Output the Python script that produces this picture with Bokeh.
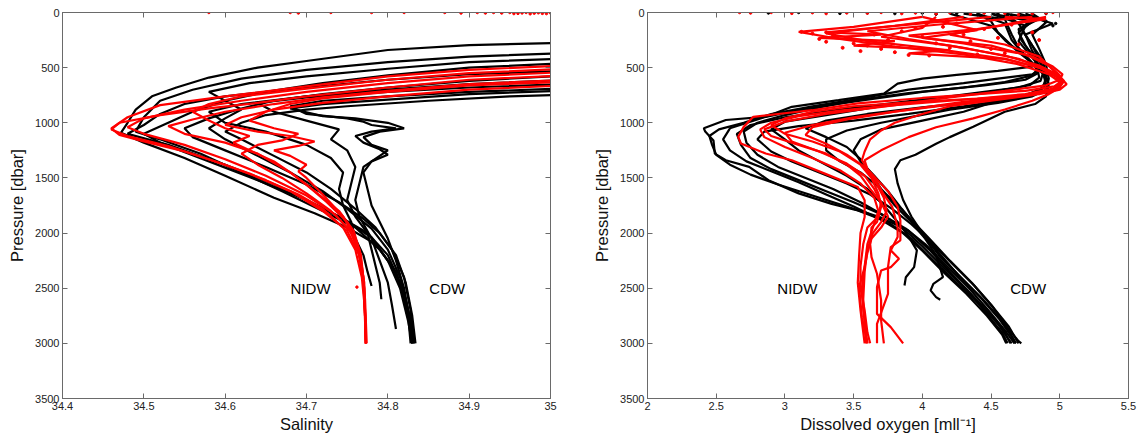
from bokeh.plotting import figure
from bokeh.models import Range1d, FixedTicker, LinearAxis, ColumnDataSource
from bokeh.layouts import row
from bokeh.core.properties import value
from bokeh.embed import file_html
from bokeh.resources import INLINE

# ---------------- data: (value, pressure [dbar]) pairs ----------------
# Salinity, CDW (black) profiles
SAL_B1 = [(35.05,270),(34.9,295),(34.8,340),(34.7,440),(34.64,500),(34.58,590),(34.54,680),(34.51,760),(34.49,880),(34.48,1000),(34.472,1090),(34.5,1180),(34.55,1320),(34.6,1480),(34.66,1680),(34.71,1820),(34.75,1950),(34.785,2100),(34.805,2300),(34.82,2550),(34.828,2800),(34.832,3000)]
SAL_B2 = [(35.05,360),(34.9,400),(34.8,450),(34.7,520),(34.62,600),(34.56,700),(34.52,800),(34.5,950),(34.49,1080),(34.52,1150),(34.57,1280),(34.62,1450),(34.67,1620),(34.72,1800),(34.76,1950),(34.79,2150),(34.81,2350),(34.822,2600),(34.828,2800),(34.83,3000)]
SAL_B3 = [(35.05,450),(34.9,500),(34.8,570),(34.72,640),(34.65,720),(34.6,800),(34.56,900),(34.53,1000),(34.5,1100),(34.52,1180),(34.58,1350),(34.64,1520),(34.7,1700),(34.74,1850),(34.775,2000),(34.8,2200),(34.815,2450),(34.825,2750),(34.828,3000)]
SAL_B4 = [(35.05,560),(34.9,620),(34.8,680),(34.72,740),(34.66,800),(34.62,870),(34.58,960),(34.55,1050),(34.56,1130),(34.6,1250),(34.65,1400),(34.7,1560),(34.74,1720),(34.77,1870),(34.79,2000),(34.81,2200),(34.822,2450),(34.83,2750),(34.834,3000)]
SAL_B5 = [(35.05,740),(34.95,760),(34.85,800),(34.75,850),(34.7,880),(34.65,930),(34.62,1000),(34.6,1080),(34.62,1150),(34.66,1300),(34.7,1450),(34.73,1600),(34.76,1780),(34.785,1950),(34.805,2150),(34.82,2400),(34.828,2700),(34.832,3000)]
SAL_B6 = [(35.05,700),(34.9,740),(34.8,790),(34.72,830),(34.68,870),(34.72,940),(34.76,960),(34.78,980),(34.8,1000),(34.82,1050),(34.79,1080),(34.77,1130),(34.78,1200),(34.8,1250),(34.79,1300),(34.77,1400),(34.765,1550),(34.76,1700),(34.765,1850),(34.78,2050),(34.79,2250),(34.8,2450),(34.805,2650),(34.81,2870)]
SAL_B7 = [(35.05,640),(34.9,680),(34.8,720),(34.7,770),(34.64,820),(34.66,900),(34.7,980),(34.74,1060),(34.73,1150),(34.75,1250),(34.76,1400),(34.755,1550),(34.75,1700),(34.76,1850),(34.775,2000),(34.78,2150),(34.785,2300),(34.79,2450),(34.792,2600)]
SAL_B8 = [(35.05,600),(34.9,650),(34.8,700),(34.7,760),(34.62,830),(34.58,900),(34.6,1000),(34.65,1080),(34.7,1200),(34.73,1320),(34.745,1450),(34.74,1600),(34.745,1750),(34.755,1900),(34.76,2050),(34.77,2200),(34.775,2350),(34.78,2480)]
SAL_B9 = [(35.05,680),(34.9,720),(34.8,760),(34.72,800),(34.68,850),(34.7,920),(34.75,960),(34.77,990),(34.78,1020),(34.81,1050),(34.78,1080),(34.76,1120),(34.77,1180),(34.79,1240),(34.8,1290),(34.78,1350),(34.77,1450),(34.775,1600),(34.78,1750),(34.79,1900),(34.8,2050),(34.81,2250),(34.82,2500),(34.826,2750),(34.83,3000)]
SAL_B10 = [(35.05,520),(34.9,560),(34.8,610),(34.7,680),(34.6,760),(34.55,830),(34.52,920),(34.5,1020),(34.48,1100),(34.53,1200),(34.6,1380),(34.66,1560),(34.7,1700),(34.745,1870),(34.78,2040),(34.8,2250),(34.815,2500),(34.825,2800),(34.83,3000)]
SAL_B11 = [(35.05,410),(34.9,450),(34.8,510),(34.7,580),(34.63,640),(34.58,720),(34.6,800),(34.62,880),(34.6,960),(34.58,1050),(34.6,1150),(34.64,1300),(34.68,1450),(34.72,1620),(34.75,1780),(34.78,1960),(34.8,2150),(34.815,2400),(34.825,2700),(34.83,3000)]

# Salinity, NIDW (red) profiles
SAL_R1 = [(35.05,470),(34.9,520),(34.8,580),(34.7,670),(34.6,760),(34.52,840),(34.48,950),(34.46,1050),(34.47,1110),(34.5,1170),(34.55,1260),(34.6,1380),(34.65,1520),(34.69,1650),(34.72,1780),(34.745,1950),(34.76,2150),(34.768,2400),(34.772,2700),(34.773,3000)]
SAL_R2 = [(35.05,530),(34.9,580),(34.8,640),(34.7,720),(34.62,800),(34.55,880),(34.5,960),(34.48,1040),(34.5,1100),(34.55,1200),(34.6,1330),(34.65,1480),(34.7,1660),(34.735,1830),(34.755,2000),(34.765,2200),(34.77,2450),(34.772,2750),(34.773,3000)]
SAL_R3 = [(35.05,600),(34.9,650),(34.8,710),(34.72,770),(34.66,830),(34.6,900),(34.56,970),(34.53,1030),(34.55,1100),(34.6,1180),(34.64,1280),(34.68,1450),(34.71,1620),(34.74,1800),(34.758,1980),(34.767,2200),(34.771,2500),(34.773,3000)]
SAL_R4 = [(35.05,650),(34.9,700),(34.8,760),(34.72,820),(34.66,880),(34.62,950),(34.6,1020),(34.64,1080),(34.68,1120),(34.71,1170),(34.69,1210),(34.66,1250),(34.68,1300),(34.7,1380),(34.69,1440),(34.7,1500),(34.72,1650),(34.745,1850),(34.76,2050),(34.768,2300),(34.772,2600),(34.774,3000)]
SAL_R5 = [(35.05,500),(34.9,550),(34.8,610),(34.7,690),(34.62,760),(34.58,830),(34.56,900),(34.58,980),(34.6,1050),(34.63,1120),(34.61,1180),(34.63,1250),(34.66,1350),(34.68,1450),(34.7,1560),(34.725,1720),(34.75,1900),(34.762,2100),(34.77,2400),(34.773,3000)]
SAL_R6 = [(35.05,560),(34.9,610),(34.8,680),(34.7,760),(34.64,820),(34.58,870),(34.52,930),(34.47,1000),(34.46,1060),(34.48,1120),(34.53,1210),(34.58,1330),(34.63,1460),(34.68,1620),(34.72,1800),(34.75,1980),(34.765,2200),(34.771,2500),(34.773,3000)]
SAL_R7 = [(35.05,620),(34.9,660),(34.8,720),(34.72,780),(34.68,830),(34.65,900),(34.63,980),(34.66,1050),(34.69,1100),(34.67,1160),(34.64,1200),(34.62,1280),(34.64,1380),(34.67,1500),(34.7,1640),(34.73,1800),(34.752,1960),(34.765,2150),(34.771,2450),(34.773,3000)]

# surface / stray red salinity samples
SAL_RED_DOTS_S = [34.58, 34.68, 34.69, 34.73, 34.78, 34.82, 34.87, 34.89, 34.91, 34.92, 34.93, 34.94, 34.95, 34.955, 34.96, 34.965, 34.97, 34.975, 34.98, 34.985, 34.99, 34.995, 35.0, 34.762]
SAL_RED_DOTS_P = [0, 0, 5, 0, 0, 0, 0, 5, 0, 5, 0, 5, 0, 10, 8, 4, 0, 12, 6, 3, 8, 10, 4, 2490]

# Dissolved oxygen, CDW (black) profiles
OX_B1 = [(4.75,10),(4.85,60),(4.7,150),(4.72,250),(4.78,350),(4.84,430),(4.8,490),(4.55,530),(4.25,565),(4.0,600),(3.82,645),(3.72,735),(3.39,795),(3.05,855),(2.86,945),(2.57,975),(2.41,1050),(2.42,1080),(2.48,1160),(2.49,1280),(2.57,1340),(2.74,1400),(2.88,1520),(3.1,1640),(3.34,1735),(3.53,1795),(3.75,1900),(3.92,2050),(4.08,2250),(4.25,2450),(4.42,2650),(4.55,2820),(4.62,2950),(4.65,3000)]
OX_B2 = [(4.6,10),(4.7,100),(4.75,200),(4.8,300),(4.87,420),(4.89,500),(4.8,560),(4.55,600),(4.3,640),(3.9,700),(3.5,790),(3.2,850),(2.9,920),(2.7,1000),(2.52,1060),(2.45,1120),(2.47,1200),(2.5,1290),(2.6,1380),(2.75,1470),(2.95,1560),(3.2,1660),(3.45,1760),(3.7,1860),(3.9,1980),(4.05,2150),(4.2,2350),(4.35,2550),(4.48,2750),(4.58,2900),(4.62,3000)]
OX_B3 = [(4.5,10),(4.8,80),(4.7,180),(4.75,300),(4.82,420),(4.88,540),(4.86,620),(4.7,680),(4.45,720),(4.2,760),(3.8,820),(3.4,880),(3.0,950),(2.75,1020),(2.65,1100),(2.68,1200),(2.75,1320),(2.9,1420),(3.1,1520),(3.3,1620),(3.5,1720),(3.7,1830),(3.88,1960),(4.02,2100),(4.18,2300),(4.34,2500),(4.48,2700),(4.6,2880),(4.67,3000)]
OX_B4 = [(4.3,10),(4.6,60),(4.65,200),(4.7,320),(4.8,460),(4.88,560),(4.9,650),(4.85,720),(4.68,780),(4.3,850),(3.9,920),(3.5,980),(3.1,1030),(2.85,1080),(2.8,1150),(2.9,1260),(3.05,1350),(3.25,1450),(3.45,1550),(3.62,1650),(3.78,1780),(3.92,1920),(4.06,2080),(4.22,2280),(4.38,2480),(4.52,2680),(4.63,2850),(4.7,3000)]
OX_B5 = [(4.7,10),(4.95,100),(4.75,200),(4.8,350),(4.88,500),(4.92,650),(4.9,760),(4.82,830),(4.6,900),(4.37,1035),(4.2,1130),(4.1,1190),(3.95,1290),(3.84,1340),(3.8,1420),(3.82,1550),(3.86,1700),(3.92,1850),(4.0,2000),(4.12,2200),(4.28,2400),(4.44,2600),(4.58,2800),(4.7,2980),(4.72,3000)]
OX_B6 = [(4.4,10),(4.6,100),(4.65,250),(4.75,400),(4.84,520),(4.85,590),(4.78,660),(4.5,720),(4.1,780),(3.7,850),(3.3,930),(3.0,990),(2.9,1060),(3.0,1150),(3.1,1250),(3.25,1350),(3.45,1480),(3.6,1600),(3.72,1750),(3.82,1900),(3.9,2030),(3.96,2157),(3.94,2309),(3.88,2400),(3.87,2475)]
OX_B7 = [(4.5,10),(4.75,120),(4.7,260),(4.78,380),(4.87,520),(4.9,620),(4.86,700),(4.72,760),(4.4,810),(4.0,860),(3.6,920),(3.3,980),(3.15,1050),(3.3,1130),(3.45,1220),(3.55,1330),(3.62,1450),(3.7,1600),(3.8,1750),(3.92,1900),(4.02,2050),(4.1,2200),(4.15,2400),(4.08,2460),(4.06,2520),(4.1,2581),(4.13,2605)]
OX_B8 = [(4.6,10),(4.8,50),(4.72,150),(4.8,300),(4.86,450),(4.9,580),(4.88,680),(4.78,740),(4.55,800),(4.3,900),(4.0,980),(3.7,1060),(3.55,1150),(3.5,1250),(3.55,1350),(3.65,1480),(3.75,1620),(3.85,1780),(3.96,1950),(4.1,2150),(4.26,2380),(4.42,2580),(4.56,2780),(4.64,2920),(4.68,3000)]
OX_B9 = [(4.2,10),(4.5,120),(4.6,250),(4.72,380),(4.82,480),(4.84,550),(4.75,610),(4.45,660),(4.0,720),(3.6,790),(3.2,860),(2.85,950),(2.6,1050),(2.55,1150),(2.6,1250),(2.72,1350),(2.9,1440),(3.1,1540),(3.3,1650),(3.5,1760),(3.7,1880),(3.86,2000),(4.0,2160),(4.15,2350),(4.32,2550),(4.47,2750),(4.58,2920),(4.61,3000)]
OX_B10 = [(4.8,10),(4.9,90),(4.8,200),(4.85,330),(4.9,470),(4.92,600),(4.9,700),(4.8,760),(4.55,820),(4.2,880),(3.95,940),(3.7,1000),(3.45,1070),(3.3,1150),(3.3,1250),(3.4,1350),(3.55,1450),(3.68,1580),(3.8,1720),(3.92,1880),(4.05,2050),(4.2,2250),(4.36,2450),(4.5,2650),(4.6,2820),(4.68,3000)]
OX_B11 = [(4.4,10),(4.5,80),(4.55,180),(4.65,300),(4.78,430),(4.84,510),(4.8,570),(4.6,630),(4.3,680),(3.9,730),(3.55,790),(3.25,860),(3.0,930),(2.8,1000),(2.7,1080),(2.72,1180),(2.8,1290),(2.95,1400),(3.15,1500),(3.35,1600),(3.55,1720),(3.72,1840),(3.87,1970),(4.0,2120),(4.16,2320),(4.33,2520),(4.48,2720),(4.6,2900),(4.64,3000)]

# Dissolved oxygen, NIDW (red) profiles
OX_R1 = [(4.3,40),(3.8,120),(3.3,190),(3.6,260),(4.1,330),(4.6,420),(4.85,500),(4.97,560),(5.02,620),(4.96,670),(4.75,710),(4.4,740),(4.0,775),(3.53,824),(3.2,886),(2.98,916),(2.77,946),(2.7,1037),(2.66,1128),(2.68,1188),(2.86,1279),(3.05,1340),(3.29,1461),(3.53,1582),(3.58,1703),(3.58,1855),(3.55,2000),(3.54,2200),(3.53,2450),(3.55,2700),(3.57,2900),(3.58,3000)]
OX_R2 = [(4.8,40),(4.2,100),(3.6,170),(3.9,240),(4.3,320),(4.7,420),(4.9,520),(5.0,580),(5.05,650),(5.0,700),(4.85,740),(4.55,770),(4.2,800),(3.8,840),(3.4,890),(3.1,940),(2.9,1000),(2.82,1060),(2.85,1130),(3.0,1220),(3.2,1320),(3.4,1430),(3.55,1550),(3.65,1680),(3.68,1800),(3.64,1950),(3.6,2100),(3.58,2300),(3.56,2500),(3.57,2700),(3.59,2900),(3.6,3000)]
OX_R3 = [(4.0,40),(4.4,160),(4.0,230),(4.5,300),(4.8,400),(4.95,490),(5.02,560),(5.0,610),(4.9,660),(4.6,710),(4.2,770),(3.8,840),(3.3,920),(3.0,990),(2.85,1060),(2.9,1120),(3.1,1200),(3.3,1280),(3.45,1380),(3.55,1480),(3.62,1600),(3.7,1720),(3.75,1850),(3.7,1950),(3.63,2050),(3.6,2180),(3.58,2309),(3.54,2490),(3.56,2763),(3.6,3000)]
OX_R4 = [(4.6,40),(4.9,60),(4.4,150),(3.9,210),(4.3,280),(4.75,380),(4.92,480),(5.0,570),(5.02,640),(4.95,700),(4.8,750),(4.5,800),(4.2,850),(4.0,920),(3.8,1000),(3.7,1070),(3.62,1150),(3.58,1260),(3.56,1340),(3.6,1420),(3.66,1520),(3.72,1650),(3.78,1760),(3.8,1850),(3.82,1950),(3.82,2036),(3.77,2157),(3.83,2233),(3.77,2309),(3.7,2339),(3.67,2490),(3.67,2733),(3.77,2853),(3.86,3000)]
OX_R5 = [(4.9,40),(4.6,110),(4.2,200),(4.6,290),(4.85,400),(4.95,520),(5.0,610),(5.0,680),(4.92,740),(4.8,800),(4.6,880),(4.37,960),(4.1,1040),(3.9,1130),(3.7,1250),(3.58,1340),(3.6,1420),(3.66,1500),(3.75,1620),(3.82,1760),(3.84,1885),(3.84,2066),(3.77,2127),(3.75,2309),(3.75,2551),(3.67,2823),(3.67,3000)]
OX_R6 = [(4.0,40),(3.5,130),(3.1,175),(3.4,240),(3.8,310),(4.3,380),(4.7,470),(4.92,560),(5.0,630),(4.95,690),(4.75,740),(4.4,780),(3.9,815),(3.5,850),(3.2,900),(3.0,960),(2.9,1020),(3.0,1100),(3.2,1170),(3.4,1260),(3.55,1380),(3.63,1500),(3.68,1640),(3.7,1760),(3.67,1900),(3.63,1950),(3.62,2100),(3.63,2218),(3.67,2369),(3.7,2611),(3.7,2793),(3.72,3000)]
OX_R7 = [(4.1,40),(4.0,140),(3.7,220),(4.2,300),(4.6,390),(4.85,480),(4.98,560),(5.03,620),(5.0,680),(4.85,730),(4.6,770),(4.3,810),(3.9,880),(3.5,950),(3.2,1020),(3.0,1090),(3.05,1170),(3.25,1260),(3.45,1370),(3.58,1480),(3.65,1600),(3.7,1720),(3.68,1850),(3.6,1950),(3.57,2100),(3.55,2300),(3.55,2500),(3.58,2700),(3.6,2900),(3.62,3000)]
OX_R8 = [(4.5,40),(3.3,180),(3.7,200),(3.25,230),(3.8,260),(3.5,300),(4.2,340),(3.9,370),(4.6,420),(4.85,500),(4.97,580),(5.0,640),(4.95,700),(4.7,760),(4.3,820),(3.8,900),(3.45,970),(3.2,1040),(3.15,1110),(3.3,1190),(3.45,1290),(3.58,1400),(3.66,1540),(3.72,1680),(3.74,1800),(3.7,1900),(3.64,2000),(3.6,2150),(3.58,2350),(3.57,2600),(3.58,2800),(3.59,3000)]

# surface black / red oxygen samples and the shallow red scatter (100-400 dbar)
OX_BLACK_DOTS_O = [2.88, 3.1, 3.4, 3.6, 3.8, 4.0, 4.1, 4.25, 4.4, 4.55, 4.65, 4.8, 4.9, 4.97, 4.95, 4.9]
OX_BLACK_DOTS_P = [5, 0, 8, 3, 10, 5, 15, 8, 20, 12, 25, 18, 10, 100, 120, 80]
OX_RED_DOTS_O = [2.67, 2.75, 2.9, 3.05, 3.2, 3.3, 3.45, 3.6, 3.7, 3.85, 3.95, 4.1, 4.2, 4.35, 4.45, 4.6, 4.7, 4.8, 4.9, 4.95]
OX_RED_DOTS_P = [0, 5, 0, 8, 2, 10, 4, 6, 0, 10, 5, 12, 3, 15, 6, 8, 20, 10, 5, 0]
OX_RED_CLOUD_O = [3.12, 3.2, 3.3, 3.35, 3.25, 3.45, 3.3, 3.5, 3.42, 3.6, 3.55, 3.7, 3.8, 3.9, 4.05, 3.65, 3.75, 3.85, 3.95, 4.0, 4.1, 4.2, 4.15, 4.3, 4.35, 4.45, 4.5, 4.55, 4.65, 4.7, 4.8, 4.85, 4.6, 4.4, 4.25]
OX_RED_CLOUD_P = [175, 190, 180, 210, 240, 230, 265, 280, 320, 300, 350, 330, 360, 385, 390, 200, 250, 170, 140, 220, 280, 320, 130, 200, 260, 150, 330, 230, 110, 290, 180, 250, 370, 380, 100]

# tick values and annotations
PRESSURE_TICKS = [0, 500, 1000, 1500, 2000, 2500, 3000, 3500]
SAL_TICKS = [34.4, 34.5, 34.6, 34.7, 34.8, 34.9, 35.0]
OX_TICKS = [2, 2.5, 3, 3.5, 4, 4.5, 5, 5.5]
WATER_MASS_TEXT = ["NIDW", "CDW"]
SAL_TEXT_X = [34.705, 34.873]
OX_TEXT_X = [3.09, 4.77]
TEXT_P = [2500, 2500]

SAL_BLACK = [SAL_B1, SAL_B2, SAL_B3, SAL_B4, SAL_B5, SAL_B6, SAL_B7, SAL_B8, SAL_B9, SAL_B10, SAL_B11]
SAL_RED = [SAL_R1, SAL_R2, SAL_R3, SAL_R4, SAL_R5, SAL_R6, SAL_R7]
OX_BLACK = [OX_B1, OX_B2, OX_B3, OX_B4, OX_B5, OX_B6, OX_B7, OX_B8, OX_B9, OX_B10, OX_B11]
OX_RED = [OX_R1, OX_R2, OX_R3, OX_R4, OX_R5, OX_R6, OX_R7, OX_R8]

FONT = "Liberation Sans"
AXIS_COL = "#6a6a6a"


def src(profiles):
    return ColumnDataSource(dict(xs=[[v for v, _ in pr] for pr in profiles],
                                 ys=[[p for _, p in pr] for pr in profiles]))


def make_fig(width, bl, br, xr, xticks, overrides, xlabel):
    p = figure(width=width, height=441, x_range=Range1d(*xr), y_range=Range1d(3500, 0),
               output_backend="svg", toolbar_location=None,
               min_border_left=bl, min_border_right=br, min_border_top=12, min_border_bottom=43)
    p.grid.visible = False
    p.outline_line_color = AXIS_COL
    p.background_fill_color = "white"
    p.xaxis.ticker = FixedTicker(ticks=xticks)
    p.yaxis.ticker = FixedTicker(ticks=PRESSURE_TICKS)
    p.xaxis.major_label_overrides = overrides
    p.xaxis.axis_label = xlabel
    p.yaxis.axis_label = "Pressure [dbar]"
    for ax in (p.xaxis[0], p.yaxis[0]):
        ax.axis_line_color = AXIS_COL
        ax.major_tick_line_color = AXIS_COL
        ax.major_tick_in = 5
        ax.major_tick_out = 0
        ax.minor_tick_line_color = None
        ax.major_label_text_font = FONT
        ax.major_label_text_font_size = "11px"
        ax.major_label_text_color = "#222222"
        ax.major_label_standoff = 3
        ax.axis_label_text_font = FONT
        ax.axis_label_text_font_size = "16.5px"
        ax.axis_label_text_font_style = "normal"
        ax.axis_label_text_color = "#111111"
    p.xaxis.axis_label_standoff = 2
    p.yaxis.axis_label_standoff = 6
    top = LinearAxis(ticker=FixedTicker(ticks=xticks))
    right = LinearAxis(ticker=FixedTicker(ticks=PRESSURE_TICKS))
    for ax in (top, right):
        ax.axis_line_color = AXIS_COL
        ax.major_tick_line_color = AXIS_COL
        ax.major_tick_in = 5
        ax.major_tick_out = 0
        ax.minor_tick_line_color = None
        ax.major_label_text_font_size = "0px"
        ax.major_label_text_color = None
        ax.major_label_standoff = 0
    p.add_layout(top, "above")
    p.add_layout(right, "right")
    return p


p1 = make_fig(590, 62, 40, (34.4, 35.0), SAL_TICKS, {35: "35", 35.0: "35"}, "Salinity")
p1.multi_line("xs", "ys", source=src(SAL_BLACK), line_color="black", line_width=2.2)
p1.multi_line("xs", "ys", source=src(SAL_RED), line_color="#ff0000", line_width=2.2)
p1.scatter(SAL_RED_DOTS_S, SAL_RED_DOTS_P, size=2.5, color="#ff0000")
p1.text(x=SAL_TEXT_X, y=TEXT_P, text=WATER_MASS_TEXT, text_align="center", text_baseline="middle",
        text_font=value(FONT), text_font_size="15px", text_color="black")

p2 = make_fig(550, 50, 12, (2, 5.5), OX_TICKS, {2: "2", 3: "3", 4: "4", 5: "5"}, "Dissolved oxygen [mll\u207b\u00b9]")
p2.scatter(OX_BLACK_DOTS_O, OX_BLACK_DOTS_P, size=2.5, color="black")
p2.multi_line("xs", "ys", source=src(OX_BLACK), line_color="black", line_width=2.2)
p2.multi_line("xs", "ys", source=src(OX_RED), line_color="#ff0000", line_width=2.2)
p2.scatter(OX_RED_DOTS_O, OX_RED_DOTS_P, size=2.5, color="#ff0000")
p2.scatter(OX_RED_CLOUD_O, OX_RED_CLOUD_P, size=3, color="#ff0000")
p2.text(x=OX_TEXT_X, y=TEXT_P, text=WATER_MASS_TEXT, text_align="center", text_baseline="middle",
        text_font=value(FONT), text_font_size="15px", text_color="black")

layout = row(p1, p2)
open("out.html", "w").write(file_html(layout, INLINE))
